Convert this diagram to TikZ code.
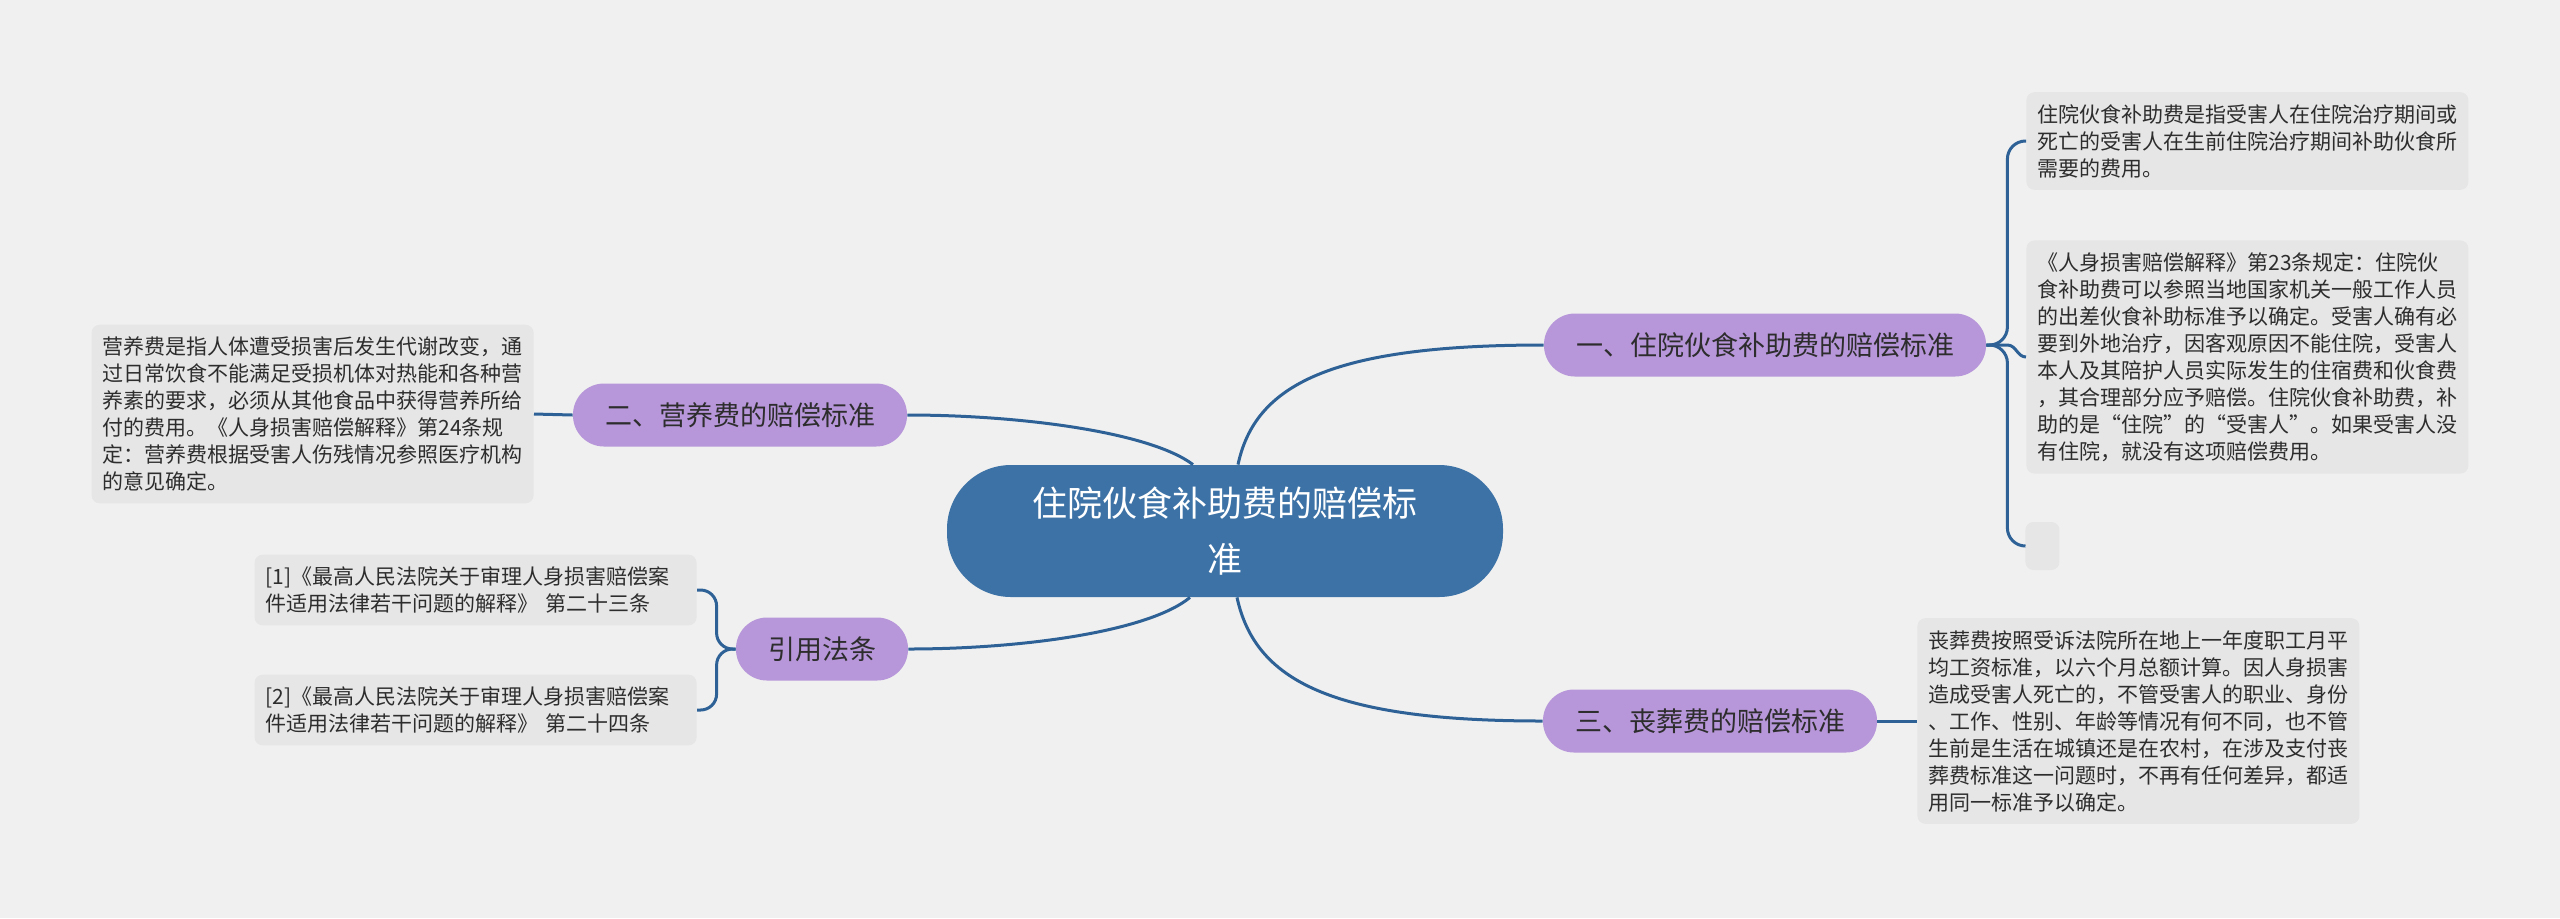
\documentclass[tikz,border=0pt]{standalone}
\usepackage{fontspec}
\setmainfont{Noto Sans CJK SC}
\usetikzlibrary{positioning, calc}

\definecolor{bggray}{RGB}{240,240,240}
\definecolor{leafgray}{RGB}{230,230,230}
\definecolor{rootblue}{RGB}{60,114,166}
\definecolor{topicpurple}{RGB}{183,150,217}
\definecolor{linkblue}{RGB}{46,98,150}
\definecolor{textdark}{RGB}{45,45,45}

\begin{document}
\begin{tikzpicture}[
    x=0.5pt, y=-0.5pt,
    link/.style     = {draw=linkblue, line width=1.5pt},
    rootnode/.style = {rectangle, rounded corners=32pt, fill=rootblue, text=white, align=center,
                       font=\fontsize{17.5}{28}\selectfont, minimum width=278pt, minimum height=66pt},
    topic/.style    = {rectangle, rounded corners=15.5pt, fill=topicpurple, text=textdark,
                       font=\fontsize{13.5}{16}\selectfont, inner xsep=16pt, minimum height=31.5pt},
    leaf/.style     = {rectangle, rounded corners=4pt, fill=leafgray, text=textdark, align=left,
                       font=\fontsize{10.5}{13.5}\selectfont, text width=210pt, inner xsep=5.5pt, inner ysep=6pt},
]

% canvas
\fill[bggray] (0,0) rectangle (2560,918);
\useasboundingbox (0,0) rectangle (2560,918);

% central topic
\node[rootnode] (root) at (1225,531) {住院伙食补助费的赔偿标\\准};

% main branches
\node[topic] (feed)    at (1765,345) {一、住院伙食补助费的赔偿标准};
\node[topic] (nutri)   at (740,415)  {二、营养费的赔偿标准};
\node[topic] (law)     at (822,649)  {引用法条};
\node[topic] (funeral) at (1710,721) {三、丧葬费的赔偿标准};

% details, right side
\node[leaf, anchor=west] (feedA) at (2026,141) {住院伙食补助费是指受害人在住院治疗期间或\\死亡的受害人在生前住院治疗期间补助伙食所\\需要的费用。};
\node[leaf, anchor=west] (feedB) at (2026,357) {《人身损害赔偿解释》第23条规定：住院伙\\食补助费可以参照当地国家机关一般工作人员\\的出差伙食补助标准予以确定。受害人确有必\\要到外地治疗，因客观原因不能住院，受害人\\本人及其陪护人员实际发生的住宿费和伙食费\\，其合理部分应予赔偿。住院伙食补助费，补\\助的是“住院”的“受害人”。如果受害人没\\有住院，就没有这项赔偿费用。};
\node[leaf, anchor=west, text width=6pt, minimum height=24pt] (feedC) at (2025,546) {};
\node[leaf, anchor=west] (funeralA) at (1917,721) {丧葬费按照受诉法院所在地上一年度职工月平\\均工资标准，以六个月总额计算。因人身损害\\造成受害人死亡的，不管受害人的职业、身份\\、工作、性别、年龄等情况有何不同，也不管\\生前是生活在城镇还是在农村，在涉及支付丧\\葬费标准这一问题时，不再有任何差异，都适\\用同一标准予以确定。};

% details, left side
\node[leaf, anchor=east] (nutriA) at (534,414) {营养费是指人体遭受损害后发生代谢改变，通\\过日常饮食不能满足受损机体对热能和各种营\\养素的要求，必须从其他食品中获得营养所给\\付的费用。《人身损害赔偿解释》第24条规\\定：营养费根据受害人伤残情况参照医疗机构\\的意见确定。};
\node[leaf, anchor=east] (lawA) at (697,590) {[1]《最高人民法院关于审理人身损害赔偿案\\件适用法律若干问题的解释》 第二十三条};
\node[leaf, anchor=east] (lawB) at (697,710) {[2]《最高人民法院关于审理人身损害赔偿案\\件适用法律若干问题的解释》 第二十四条};

% root -> branches
\draw[link] ($(root.north)+(13,0)$)  .. controls (1255,385) and (1330,345) .. (feed.west);
\draw[link] ($(root.south)+(12,0)$)  .. controls (1255,680) and (1330,721) .. (funeral.west);
\draw[link] ($(root.north)+(-32,0)$) .. controls (1150,432) and (1020,415) .. (nutri.east);
\draw[link] ($(root.south)+(-35,0)$) .. controls (1148,632) and (1020,649) .. (law.east);

% branches -> details
\coordinate (feedfork) at ($(feed.east)+(21,0)$);
\draw[link, rounded corners=9pt] (feed.east) -- (feedfork) |- (feedA.west);
\draw[link] (feed.east) -- (feedfork) to[out=0, in=180] (feedB.west);
\draw[link, rounded corners=9pt] (feed.east) -- (feedfork) |- (feedC.west);
\draw[link] (funeral.east) -- (funeralA.west);
\draw[link] (nutri.west) -- (nutriA.east);
\coordinate (lawfork) at ($(law.west)+(-19,0)$);
\draw[link, rounded corners=8pt] (law.west) -- (lawfork) |- (lawA.east);
\draw[link, rounded corners=8pt] (law.west) -- (lawfork) |- (lawB.east);

\end{tikzpicture}
\end{document}
